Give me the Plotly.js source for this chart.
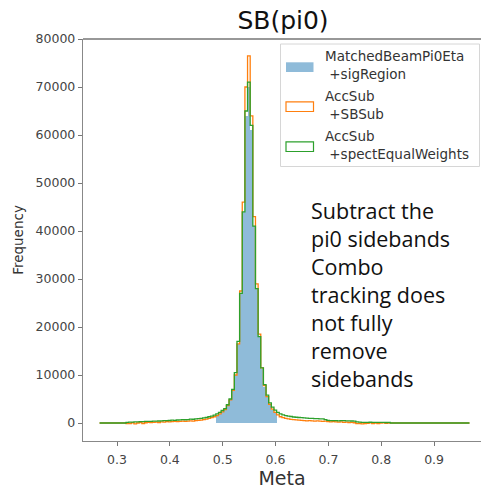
<!DOCTYPE html>
<html>
<head>
<meta charset="utf-8">
<script src="https://cdn.plot.ly/plotly-3.0.1.min.js"></script>
<style>
  html, body { margin: 0; padding: 0; background: #ffffff; }
  #chart { width: 481px; height: 489px; }
</style>
</head>
<body>
<div id="chart"></div>
<script>
// Histogram binning of the eta candidate mass (Meta)
const binStart = 0.267;
const binWidth = 0.005;

// Counts per bin: MatchedBeamPi0Eta +sigRegion (filled histogram)
const sigRegion = [
  0, 0, 0, 0, 0, 0, 0, 0, 0, 0,
  0, 0, 0, 0, 0, 0, 0, 0, 0, 0,
  0, 0, 0, 0, 0, 0, 0, 0, 0, 0,
  0, 0, 0, 0, 0, 0, 0, 0, 0, 0,
  0, 0, 0, 0, 1500, 1850, 2250, 2800, 3600, 4800,
  6800, 10000, 16500, 27000, 44000, 64000, 70000, 61000, 41000, 28000,
  18000, 11200, 7600, 5400, 3800, 2800, 2100, 0, 0, 0,
  0, 0, 0, 0, 0, 0, 0, 0, 0, 0,
  0, 0, 0, 0, 0, 0, 0, 0, 0, 0,
  0, 0, 0, 0, 0, 0, 0, 0, 0, 0,
  0, 0, 0, 0, 0, 0, 0, 0, 0, 0,
  0, 0, 0, 0, 0, 0, 0, 0, 0, 0,
  0, 0, 0, 0, 0, 0, 0, 0, 0, 0,
  0, 0, 0, 0, 0, 0, 0, 0, 0, 0
];

// Counts per bin: AccSub +SBSub (step outline)
const sbSub = [
  0, 0, 0, 0, 0, 0, 0, 0, 0, 0,
  -100, -150, 50, -200, 0, 100, -100, 50, 150, 100,
  150, 200, 100, 250, 200, 300, 250, 300, 350, 300,
  350, 400, 350, 400, 450, 400, 500, 550, 600, 700,
  800, 950, 1100, 1300, 1550, 1900, 2300, 2800, 3600, 4800,
  6800, 10000, 16500, 27500, 46000, 70000, 76500, 64000, 43000, 29000,
  18500, 11500, 7800, 5500, 3900, 2900, 2200, 1700, 1300, 1100,
  950, 850, 750, 700, 650, 600, 550, 500, 450, 500,
  450, 400, 450, 400, 350, 400, 300, 250, 300, 250,
  200, 250, 150, 200, 100, 150, 50, -150, -100, -200,
  -100, -50, 50, -150, 0, -100, 0, 50, -50, 0,
  0, 0, 0, 0, 0, 0, 0, 0, 0, 0,
  0, 0, 0, 0, 0, 0, 0, 0, 0, 0,
  0, 0, 0, 0, 0, 0, 0, 0, 0, 0
];

// Counts per bin: AccSub +spectEqualWeights (step outline)
const spectEqualWeights = [
  0, 0, 0, 0, 0, 0, 0, 0, 0, 0,
  150, 200, 180, 250, 220, 300, 280, 320, 350, 330,
  400, 380, 420, 450, 480, 500, 520, 600, 560, 620,
  650, 700, 680, 720, 800, 780, 850, 900, 950, 1050,
  1150, 1300, 1450, 1650, 1900, 2200, 2600, 3000, 3800, 5000,
  7000, 10500, 17000, 27000, 44000, 65000, 71000, 62000, 41000, 28000,
  18000, 11500, 8000, 5800, 4200, 3300, 2700, 2200, 1900, 1700,
  1550, 1450, 1350, 1250, 1200, 1150, 1100, 1050, 1000, 950,
  950, 900, 900, 850, 850, 700, 550, 500, 480, 500,
  450, 500, 480, 450, 460, 420, 400, 250, 200, 150,
  150, 120, 160, 140, 150, 130, 140, 120, 100, 150,
  0, 0, 0, 0, 0, 0, 0, 0, 0, 0,
  0, 0, 0, 0, 0, 0, 0, 0, 0, 0,
  0, 0, 0, 0, 0, 0, 0, 0, 0, 0
];

const seriesNames = [
  ["MatchedBeamPi0Eta", "+sigRegion"],
  ["AccSub", "+SBSub"],
  ["AccSub", "+spectEqualWeights"]
];
const xTickVals = [0.3, 0.4, 0.5, 0.6, 0.7, 0.8, 0.9];
const yTickVals = [0, 10000, 20000, 30000, 40000, 50000, 60000, 70000, 80000];
const noteLines = ["Subtract the", "pi0 sidebands", "Combo", "tracking does",
                   "not fully", "remove", "sidebands"];

// ---- derived geometry -------------------------------------------------
const nBins = sigRegion.length;
const centers = [];
const edges = [];
for (let i = 0; i <= nBins; i++) edges.push(binStart + i * binWidth);
for (let i = 0; i < nBins; i++) centers.push(binStart + (i + 0.5) * binWidth);

// matplotlib-style 'step' outline: rise from the baseline, fall back at the end
function stepOutline(vals) {
  const xs = [edges[0]], ys = [0];
  for (let i = 0; i < vals.length; i++) { xs.push(edges[i]); ys.push(vals[i]); }
  xs.push(edges[vals.length]); ys.push(vals[vals.length - 1]);
  xs.push(edges[vals.length]); ys.push(0);
  return { xs, ys };
}

const C_BLUE = "rgba(31,119,180,0.5)";
const C_ORANGE = "#ff7f0e";
const C_GREEN = "#2ca02c";

const orange = stepOutline(sbSub);
const green = stepOutline(spectEqualWeights);

const traces = [
  {
    type: "bar", x: centers, y: sigRegion, width: binWidth,
    marker: { color: C_BLUE, line: { width: 0 } },
    name: seriesNames[0].join(" "), showlegend: false, hoverinfo: "skip"
  },
  {
    type: "scatter", mode: "lines", x: orange.xs, y: orange.ys,
    line: { color: C_ORANGE, width: 1.3, shape: "hv" },
    name: seriesNames[1].join(" "), showlegend: false, hoverinfo: "skip"
  },
  {
    type: "scatter", mode: "lines", x: green.xs, y: green.ys,
    line: { color: C_GREEN, width: 1.3, shape: "hv" },
    name: seriesNames[2].join(" "), showlegend: false, hoverinfo: "skip"
  }
];

// pixel -> paper helpers for the plot area
const W = 481, H = 489;
const M = { l: 83, r: 0, t: 39, b: 48 };
const pw = W - M.l - M.r, ph = H - M.t - M.b;
const px = v => (v - M.l) / pw;
const py = v => (H - M.b - v) / ph;

const FONT = "DejaVu Sans, Liberation Sans, sans-serif";

const shapes = [
  // top spine
  { type: "line", xref: "paper", yref: "paper", x0: 0, x1: 1, y0: 1, y1: 1,
    line: { color: "#333333", width: 1.2 }, layer: "above" },
  // legend frame
  { type: "rect", xref: "paper", yref: "paper",
    x0: px(280.5), x1: px(479.5), y0: py(166.5), y1: py(44),
    line: { color: "#d6d6d6", width: 1 }, fillcolor: "rgba(255,255,255,0.85)", layer: "above" },
  // legend patches
  { type: "rect", xref: "paper", yref: "paper",
    x0: px(286), x1: px(313.5), y0: py(72), y1: py(62.3),
    line: { width: 0 }, fillcolor: C_BLUE, layer: "above" },
  { type: "rect", xref: "paper", yref: "paper",
    x0: px(286), x1: px(313.5), y0: py(111.5), y1: py(101.8),
    line: { color: C_ORANGE, width: 1.2 }, fillcolor: "rgba(0,0,0,0)", layer: "above" },
  { type: "rect", xref: "paper", yref: "paper",
    x0: px(286), x1: px(313.5), y0: py(151.5), y1: py(141.8),
    line: { color: C_GREEN, width: 1.2 }, fillcolor: "rgba(0,0,0,0)", layer: "above" }
];

const legendCenters = [65, 105, 144.5];
const annotations = seriesNames.map((nm, i) => ({
  xref: "paper", yref: "paper", x: px(323), y: py(legendCenters[i]),
  xanchor: "left", yanchor: "middle", align: "left", showarrow: false,
  text: nm[0] + "<br>\u00a0" + nm[1],
  font: { family: FONT, size: 13.5, color: "#333333" }
}));
annotations.push({
  xref: "paper", yref: "paper", x: px(309), y: py(294),
  xanchor: "left", yanchor: "middle", align: "left", showarrow: false,
  text: noteLines.join("<br>"),
  font: { family: "Open Sans, Lato, sans-serif", size: 21.5, color: "#111111" }
});

const layout = {
  width: W, height: H,
  margin: M,
  paper_bgcolor: "#ffffff", plot_bgcolor: "#ffffff",
  showlegend: false,
  barmode: "overlay", bargap: 0,
  title: {
    text: "SB(pi0)", x: 283 / W, xref: "container", xanchor: "center",
    y: 1 - 20 / H, yref: "container", yanchor: "middle",
    font: { family: FONT, size: 25, color: "#111111" }
  },
  xaxis: {
    range: [0.2356, 0.9888],
    tickvals: xTickVals, ticktext: xTickVals.map(v => v.toFixed(1)),
    ticks: "outside", ticklen: 4, tickwidth: 1, tickcolor: "#777777",
    ticklabelstandoff: 3,
    showline: true, linecolor: "#888888", linewidth: 1.2,
    showgrid: false, zeroline: false,
    tickfont: { family: FONT, size: 12.5, color: "#444444" },
    title: { text: "Meta", standoff: 5, font: { family: FONT, size: 19, color: "#333333" } }
  },
  yaxis: {
    range: [-3750, 80000],
    tickvals: yTickVals, ticktext: yTickVals.map(v => String(v)),
    ticks: "outside", ticklen: 4, tickwidth: 1, tickcolor: "#777777",
    showline: true, linecolor: "#888888", linewidth: 1.2,
    showgrid: false, zeroline: false,
    tickfont: { family: FONT, size: 12.5, color: "#444444" },
    title: { text: "Frequency", standoff: 8, font: { family: FONT, size: 13.5, color: "#333333" } }
  },
  shapes: shapes,
  annotations: annotations
};

Plotly.newPlot("chart", traces, layout, { staticPlot: true, displayModeBar: false });
</script>
</body>
</html>
